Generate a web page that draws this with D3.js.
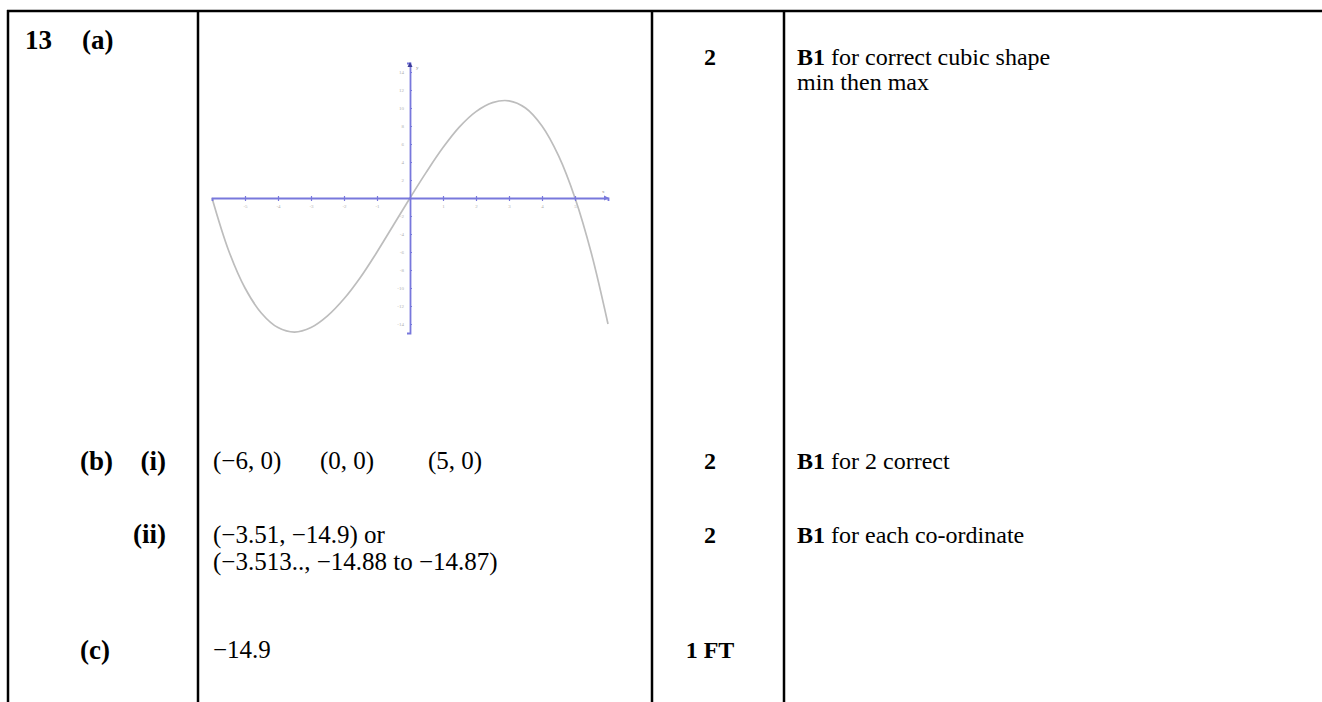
<!DOCTYPE html>
<html>
<head>
<meta charset="utf-8">
<script src="https://cdn.jsdelivr.net/npm/d3@7"></script>
<style>
  body { margin: 0; background: #fff; }
  svg text { font-family: "Liberation Serif", "Times New Roman", serif; }
  .bold { font-weight: bold; }
</style>
</head>
<body>
<svg width="1322" height="702"></svg>
<script>
// cubic sketch
const curveX = [-6, -5.5, -5, -4.5, -4, -3.5, -3, -2.5, -2, -1.5, -1, -0.5, 0,
                0.5, 1, 1.5, 2, 2.5, 3, 3.5, 4, 4.5, 5, 5.5, 6];
const curveY = [0, -5.8, -10, -12.8, -14.4, -14.9, -14.4, -13.1, -11.2, -8.8, -6, -3, 0,
                2.9, 5.6, 7.9, 9.6, 10.6, 10.8, 10, 8, 4.7, 0, -6.2, -14];
const xTicks = [-5, -4, -3, -2, -1, 1, 2, 3, 4, 5];
const yTicks = [-14, -12, -10, -8, -6, -4, -2, 2, 4, 6, 8, 10, 12, 14];

// table text
const partLabels = ["(a)", "(b)", "(i)", "(ii)", "(c)"];
const answers = ["(\u22126, 0)", "(0, 0)", "(5, 0)",
                 "(\u22123.51, \u221214.9) or", "(\u22123.513.., \u221214.88 to \u221214.87)", "\u221214.9"];
const marks = ["2", "2", "2", "1 FT"];
const notes = [["B1", " for correct cubic shape"], ["", "min then max"],
               ["B1", " for 2 correct"], ["B1", " for each co-ordinate"]];

const svg = d3.select('svg');

// table lines
const grid = svg.append('g').attr('stroke', '#000').attr('stroke-width', 2.5);
grid.append('line').attr('x1', 7).attr('x2', 1322).attr('y1', 11).attr('y2', 11);
[8, 198, 652, 784].forEach(x => {
    grid.append('line').attr('x1', x).attr('x2', x).attr('y1', 10).attr('y2', 702);
});

function txt(str, x, y, size, bold, anchor) {
    return svg.append('text')
        .attr('x', x).attr('y', y)
        .attr('font-size', size)
        .attr('class', bold ? 'bold' : null)
        .attr('text-anchor', anchor || 'start')
        .text(str);
}

// question column
txt("13", 25, 49, 27, true);
txt(partLabels[0], 82, 49, 27, true);
txt(partLabels[1], 80, 470, 27, true);
txt(partLabels[2], 166, 470, 27, true, 'end');
txt(partLabels[3], 166, 543, 27, true, 'end');
txt(partLabels[4], 80, 659, 27, true);

// answers
txt(answers[0], 213, 469, 25);
txt(answers[1], 320, 469, 25);
txt(answers[2], 428, 469, 25);
txt(answers[3], 213, 543, 25);
txt(answers[4], 213, 570, 25);
txt(answers[5], 213, 658, 25);

// marks
const markY = [65, 469, 543, 658];
marks.forEach((m, i) => txt(m, 710, markY[i], 24, true, 'middle'));

// notes
const noteY = [65, 90, 469, 543];
notes.forEach((n, i) => {
    const t = svg.append('text').attr('x', 797).attr('y', noteY[i]).attr('font-size', 24);
    if (n[0]) t.append('tspan').attr('font-weight', 'bold').text(n[0]);
    t.append('tspan').text(n[1]);
});

// the sketch
const xScale = d3.scaleLinear().domain([-6, 6]).range([212, 608]);
const yScale = d3.scaleLinear().domain([-15, 15]).range([333, 63]);
const axisCol = '#7878dc';

const plot = svg.append('g');

plot.append('path')
    .datum(curveX.map((x, i) => [x, curveY[i]]))
    .attr('fill', 'none')
    .attr('stroke', '#bdbdbd')
    .attr('stroke-width', 1.7)
    .attr('d', d3.line().x(d => xScale(d[0])).y(d => yScale(d[1])).curve(d3.curveCatmullRom));

const xAxis = plot.append('g')
    .attr('transform', `translate(0,${yScale(0)})`)
    .call(d3.axisBottom(xScale).tickValues(xTicks).tickSize(3).tickFormat(d => d));
const yAxis = plot.append('g')
    .attr('transform', `translate(${xScale(0)},0)`)
    .call(d3.axisLeft(yScale).tickValues(yTicks).tickSize(3).tickFormat(d => d));

[xAxis, yAxis].forEach(a => {
    a.select('.domain').attr('stroke', axisCol).attr('stroke-width', 1.8);
    a.selectAll('.tick line').attr('stroke', axisCol).attr('stroke-width', 1.2);
    a.selectAll('.tick text')
        .attr('fill', '#b0b0b0')
        .attr('font-size', 5)
        .attr('font-family', 'DejaVu Sans, sans-serif');
});
xAxis.selectAll('.tick line').attr('y1', -2);
yAxis.selectAll('.tick line').attr('x2', 2);

// arrow ends and axis letters
plot.append('path')
    .attr('d', `M${xScale(0) - 2.5},${yScale(15) + 4} L${xScale(0)},${yScale(15) - 1} L${xScale(0) + 2.5},${yScale(15) + 4}Z`)
    .attr('fill', '#3b3b9a');
plot.append('path')
    .attr('d', `M${xScale(6) - 4},${yScale(0) - 2.5} L${xScale(6) + 1},${yScale(0)} L${xScale(6) - 4},${yScale(0) + 2.5}Z`)
    .attr('fill', axisCol);
plot.append('text').attr('x', xScale(0) + 6).attr('y', yScale(15) + 6)
    .attr('font-size', 5).attr('fill', '#888').text('y');
plot.append('text').attr('x', xScale(6) - 6).attr('y', yScale(0) - 5)
    .attr('font-size', 5).attr('fill', '#888').text('x');
</script>
</body>
</html>
